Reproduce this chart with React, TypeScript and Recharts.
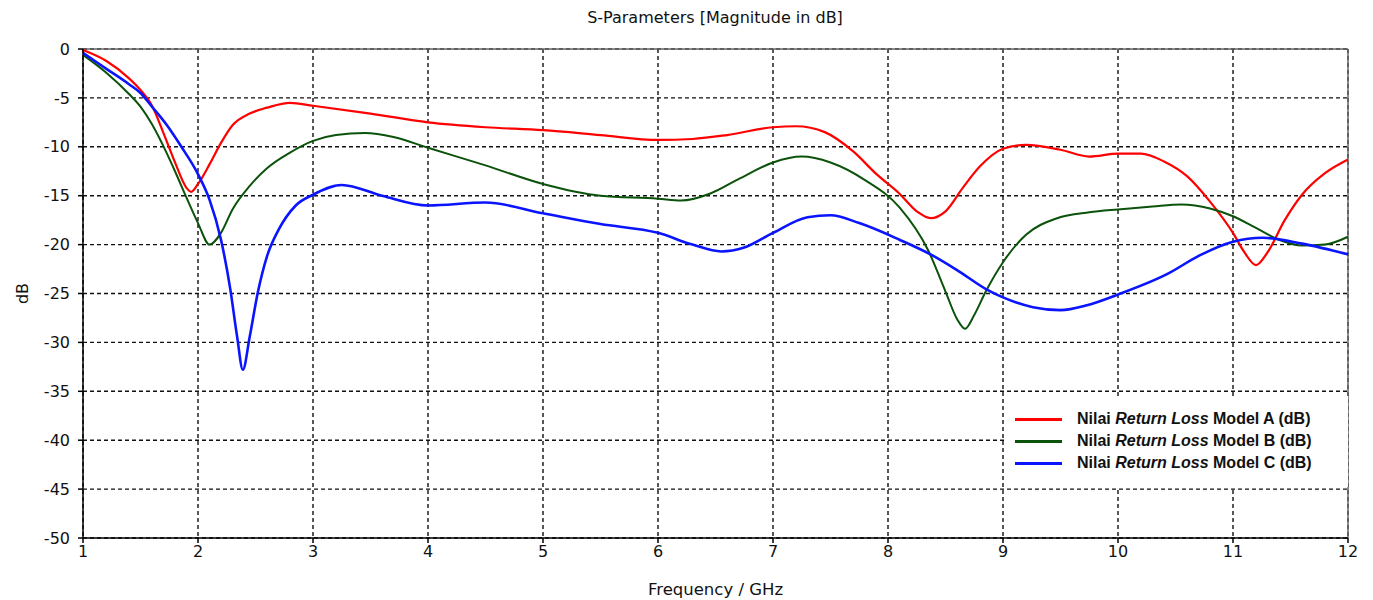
import { LineChart, Line, XAxis, YAxis, CartesianGrid, ReferenceLine, Legend } from 'recharts'

// Model A (red)
const freqA = [1, 1.2, 1.4, 1.5, 1.6, 1.7, 1.8, 1.9, 1.94, 2.0, 2.1, 2.2, 2.3, 2.45, 2.6, 2.8, 3.0, 3.5, 4.0, 4.5, 5.0, 5.5, 6.0, 6.3, 6.6, 7.0, 7.2, 7.45, 7.7, 7.9, 8.1, 8.25, 8.37, 8.5, 8.65, 8.8, 9.0, 9.2, 9.5, 9.75, 10.0, 10.2, 10.4, 10.6, 10.8, 11.0, 11.1, 11.2, 11.3, 11.45, 11.6, 11.8, 12.0]
const lossA = [-0.1, -1.2, -3.0, -4.2, -5.8, -8.6, -11.6, -14.2, -14.6, -13.8, -11.8, -9.6, -7.8, -6.6, -6.0, -5.5, -5.8, -6.6, -7.5, -8.0, -8.3, -8.8, -9.3, -9.2, -8.8, -8.0, -7.9, -8.5, -10.5, -12.8, -14.8, -16.6, -17.3, -16.6, -14.2, -12.0, -10.2, -9.8, -10.3, -11.0, -10.7, -10.7, -11.5, -13.0, -15.6, -18.8, -20.8, -22.1, -20.8, -17.5, -14.9, -12.7, -11.3]

// Model B (green)
const freqB = [1, 1.2, 1.4, 1.5, 1.6, 1.73, 1.8, 1.9, 2.0, 2.1, 2.2, 2.3, 2.45, 2.6, 2.8, 3.0, 3.2, 3.45, 3.7, 4.0, 4.5, 5.0, 5.5, 6.0, 6.2, 6.45, 6.7, 7.0, 7.25, 7.5, 7.8, 8.1, 8.35, 8.5, 8.6, 8.67, 8.75, 8.85, 9.0, 9.2, 9.47, 9.75, 10.0, 10.3, 10.55, 10.8, 11.0, 11.2, 11.4, 11.6, 11.8, 12.0]
const lossB = [-0.6, -2.4, -4.6, -5.9, -7.7, -10.7, -12.5, -15.2, -17.8, -20.0, -18.8, -16.4, -14.0, -12.2, -10.6, -9.4, -8.8, -8.6, -9.0, -10.1, -11.9, -13.8, -15.0, -15.3, -15.5, -14.8, -13.3, -11.6, -11.0, -11.6, -13.4, -16.2, -20.6, -24.8, -27.6, -28.6, -27.2, -24.8, -21.8, -19.0, -17.3, -16.7, -16.4, -16.1, -15.9, -16.3, -17.1, -18.3, -19.5, -20.1, -20.0, -19.2]

// Model C (blue)
const freqC = [1, 1.2, 1.4, 1.5, 1.6, 1.73, 1.85, 2.0, 2.1, 2.2, 2.28, 2.34, 2.39, 2.45, 2.52, 2.6, 2.7, 2.85, 3.0, 3.25, 3.6, 4.0, 4.5, 5.0, 5.5, 6.0, 6.3, 6.55, 6.75, 7.0, 7.3, 7.5, 7.75, 8.1, 8.37, 8.6, 8.86, 9.0, 9.26, 9.5, 9.73, 10.0, 10.43, 10.71, 11.0, 11.26, 11.6, 12.0]
const lossC = [-0.4, -2.0, -3.6, -4.5, -5.9, -7.8, -9.9, -12.8, -15.4, -19.5, -24.5, -29.4, -32.8, -29.4, -24.9, -21.2, -18.5, -16.0, -14.9, -13.9, -15.0, -16.0, -15.7, -16.8, -17.9, -18.8, -20.0, -20.7, -20.3, -18.8, -17.2, -17.0, -17.8, -19.5, -21.0, -22.6, -24.6, -25.4, -26.4, -26.7, -26.2, -25.1, -23.0, -21.1, -19.7, -19.3, -19.9, -21.0]

const xTicks = [1, 2, 3, 4, 5, 6, 7, 8, 9, 10, 11, 12]
const yTicks = [0, -5, -10, -15, -20, -25, -30, -35, -40, -45, -50]

const toPoints = (fs: number[], vs: number[]) => fs.map((f, i) => ({ f, v: vs[i] }))

const series = [
  { id: 'A', name: 'Model A (dB)', color: '#ff0000', width: 2.2, data: toPoints(freqA, lossA) },
  { id: 'B', name: 'Model B (dB)', color: '#0b520b', width: 2, data: toPoints(freqB, lossB) },
  { id: 'C', name: 'Model C (dB)', color: '#0a14ff', width: 2.6, data: toPoints(freqC, lossC) },
]

const font = '"DejaVu Sans", Tahoma, sans-serif'

// white box sits over the grid, like the original plot
const LegendBox = () => (
  <div style={{ background: '#fff', width: 343, height: 91, boxSizing: 'border-box', padding: '12px 0 0 10px', fontFamily: '"Liberation Sans", Arial, sans-serif', fontWeight: 700, fontSize: 16, color: '#111' }}>
    {series.map(s => (
      <div key={s.id} style={{ display: 'flex', alignItems: 'center', height: 22 }}>
        <span style={{ display: 'inline-block', width: 47, height: 3, background: s.color, marginRight: 15 }} />
        <span>Nilai <i>Return Loss</i> {s.name}</span>
      </div>
    ))}
  </div>
)

export default function App() {
  return (
    <div style={{ position: 'absolute', left: 0, top: 0, width: 1373, height: 600, background: '#fff', fontFamily: font }}>
      <div style={{ position: 'absolute', left: 0, width: 1430, top: 8, textAlign: 'center', fontSize: 16, color: '#111' }}>
        S-Parameters [Magnitude in dB]
      </div>
      <LineChart width={1373} height={600} margin={{ top: 49, right: 25, left: 0, bottom: 3 }}>
        <CartesianGrid stroke="#111" strokeWidth={1.4} strokeDasharray="4 3" />
        <XAxis
          type="number"
          dataKey="f"
          domain={[1, 12]}
          ticks={xTicks}
          interval={0}
          height={59}
          tickSize={5}
          tickMargin={3}
          stroke="#000"
          strokeWidth={1.5}
          tick={{ fontSize: 16, fill: '#111', fontFamily: font }}
          label={{ value: 'Frequency / GHz', position: 'insideBottom', offset: 2, fontSize: 16.5, fill: '#111', fontFamily: font }}
        />
        <YAxis
          type="number"
          domain={[-50, 0]}
          ticks={yTicks}
          interval={0}
          width={83}
          tickSize={5}
          tickMargin={8}
          stroke="#000"
          strokeWidth={1.5}
          tick={{ fontSize: 16, fill: '#111', fontFamily: font }}
          label={{ value: 'dB', angle: -90, position: 'center', dx: -19, fontSize: 16, fill: '#111', fontFamily: font }}
        />
        <ReferenceLine y={0} stroke="#666" strokeWidth={1.5} />
        <ReferenceLine x={12} stroke="#666" strokeWidth={1.5} />
        {series.map(s => (
          <Line
            key={s.id}
            data={s.data}
            dataKey="v"
            name={s.name}
            type="monotone"
            stroke={s.color}
            strokeWidth={s.width}
            dot={false}
            isAnimationActive={false}
          />
        ))}
        <Legend
          layout="vertical"
          align="center"
          verticalAlign="middle"
          wrapperStyle={{ left: 1005, top: 396, width: 343, height: 91 }}
          content={() => <LegendBox />}
        />
      </LineChart>
    </div>
  )
}
